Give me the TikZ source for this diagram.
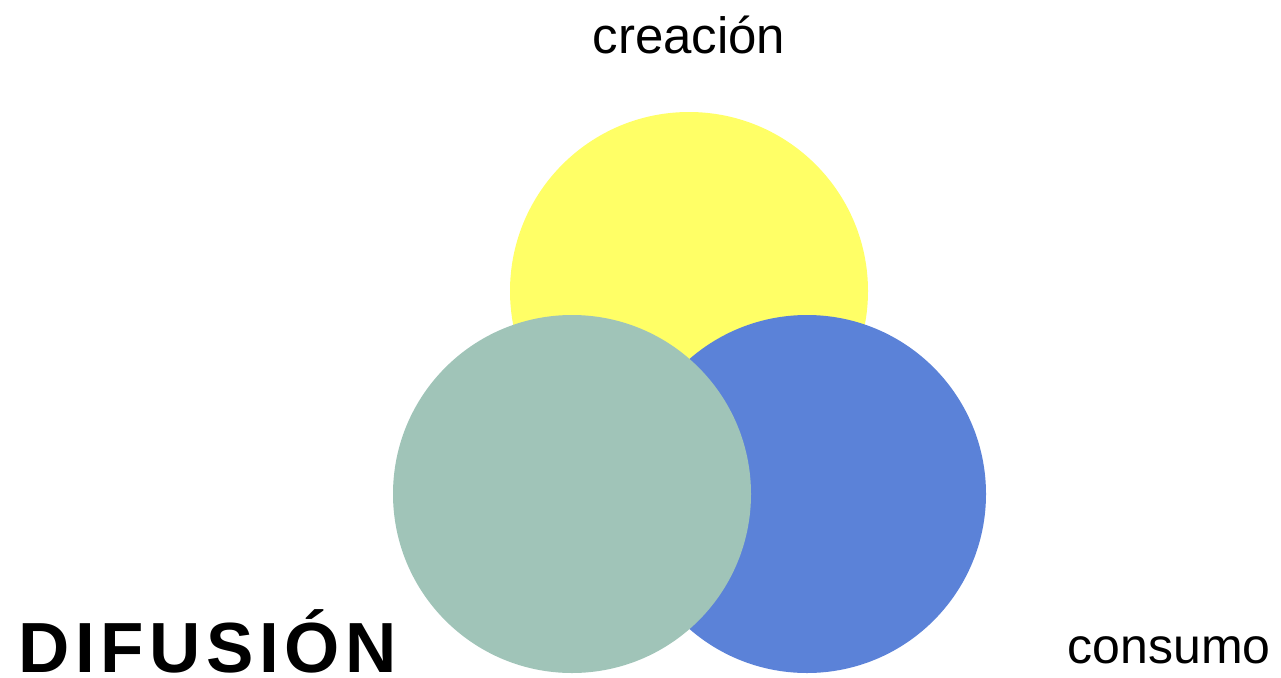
\documentclass[tikz,border=0pt]{standalone}
\usepackage{fontspec}
\setmainfont{Liberation Sans}
\definecolor{cyellow}{RGB}{255,255,102}
\definecolor{cgreen}{RGB}{160,196,184}
\definecolor{cblue}{RGB}{91,130,216}
\begin{document}
\begin{tikzpicture}[x=1pt,y=-1pt,
  disc/.style={circle,draw=none,inner sep=0pt,minimum size=358pt},
  lbl/.style={inner sep=0pt,font=\fontsize{51}{60}\selectfont}]
\useasboundingbox (0,0) rectangle (1281,677);
\node[disc,fill=cyellow] (crea) at (689,291) {};
\node[disc,fill=cblue] (cons) at (807,494) {};
\node[disc,fill=cgreen] (difu) at (572,494) {};
\node[lbl,anchor=base] (tcrea) at (689,53) {creación};
\node[lbl,anchor=base east,font=\fontsize{50}{60}\selectfont] (tcons) at (1271,663) {consumo};
\node[inner sep=0pt,text depth=0pt,anchor=base west,font={\fontsize{71}{80}\selectfont\bfseries\addfontfeature{LetterSpace=8}}] (tdifu) at (18,672) {DIFUSIÓN};
\end{tikzpicture}
\end{document}
